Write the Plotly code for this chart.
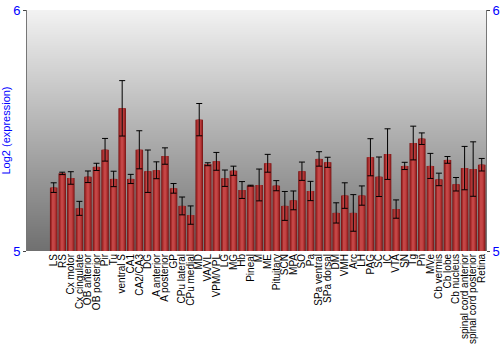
import plotly.graph_objects as go

regions = ["LS", "RS", "Cx motor", "Cx cingulate", "OB anterior", "OB posterior", "Pir", "Tu",
           "ventral S", "CA1", "CA2/CA3", "DG", "A anterior", "A posterior", "GP", "CPu lateral",
           "CPu medial", "MD", "VA/VL", "VPM/VPL", "LG", "MG", "Hb", "Pineal", "M", "ME",
           "Pituitary", "SCN", "MPA", "SO", "Pa", "SPa ventral", "SPa dorsal", "DM", "VMH", "Arc",
           "LH", "PAG", "SC", "IC", "VTA", "SN", "Tg", "Pn", "MVe", "Cb vermis", "Cb lobe",
           "Cb nucleus", "spinal cord anterior", "spinal cord posterior", "Retina"]

expression = [5.263, 5.322, 5.303, 5.177, 5.308, 5.349, 5.420, 5.299,
              5.592, 5.299, 5.420, 5.331, 5.335, 5.394, 5.260, 5.187,
              5.149, 5.545, 5.360, 5.372, 5.302, 5.333, 5.253, 5.271, 5.274, 5.364,
              5.271, 5.187, 5.210, 5.331, 5.249, 5.382, 5.368, 5.158, 5.230, 5.158,
              5.230, 5.389, 5.308, 5.402, 5.174, 5.353, 5.448, 5.466, 5.353, 5.297, 5.378,
              5.277, 5.344, 5.340, 5.358]

error = [0.020, 0.005, 0.026, 0.029, 0.024, 0.015, 0.047, 0.032,
         0.115, 0.019, 0.079, 0.088, 0.035, 0.034, 0.020, 0.037,
         0.038, 0.067, 0.006, 0.037, 0.034, 0.019, 0.035, 0.002, 0.066, 0.037,
         0.021, 0.060, 0.039, 0.038, 0.040, 0.030, 0.021, 0.042, 0.053, 0.076,
         0.040, 0.077, 0.082, 0.105, 0.038, 0.015, 0.070, 0.024, 0.052, 0.026, 0.014,
         0.028, 0.090, 0.113, 0.026]

y_range = [5, 6]
y_ticks = [5, 6]

fig = go.Figure()

# layered bars to imitate the shaded (cylindrical) look
layers = [(0.88, "#7a1616"), (0.70, "#9e2828"), (0.46, "#b83838"), (0.22, "#c44646")]
for i, (w, c) in enumerate(layers):
    last = i == len(layers) - 1
    fig.add_trace(go.Bar(
        x=regions, y=[v - y_range[0] for v in expression], base=y_range[0],
        width=w, marker=dict(color=c, line=dict(width=0)),
        error_y=dict(type="data", array=error, color="black", thickness=1, width=3, visible=last),
        showlegend=False, hoverinfo="skip" if not last else None,
    ))

# gradient background
n = 241
shapes = []
for k in range(n):
    t = k / (n - 1)
    g = int(round(242 - (242 - 112) * t))
    shapes.append(dict(type="rect", xref="paper", yref="paper", x0=0, x1=1,
                       y0=1 - (k + 1) / n, y1=1 - k / n,
                       fillcolor=f"rgb({g},{g},{g})", line=dict(width=0), layer="below"))

fig.update_layout(
    width=500, height=350,
    margin=dict(l=27, r=14, t=10, b=99),
    barmode="overlay", bargap=0.1,
    paper_bgcolor="white", plot_bgcolor="rgba(0,0,0,0)",
    shapes=shapes,
    font=dict(family="Liberation Sans, Arial, sans-serif", size=10, color="black"),
    xaxis=dict(tickmode="array", tickvals=regions, ticktext=regions,
               tickangle=-90, tickfont=dict(size=10, color="black"), showgrid=False,
               showline=False, ticks="", ticklen=0, automargin=False),
    yaxis=dict(range=y_range, tickvals=y_ticks, showgrid=False, zeroline=False,
               showline=True, linecolor="#777777", linewidth=1, ticks="outside", ticklen=3,
               tickcolor="#444444", tickfont=dict(size=13, color="blue"),
               title=dict(text="Log2 (expression)", font=dict(size=11, color="blue"), standoff=4),
               automargin=False),
    yaxis2=dict(range=y_range, tickvals=y_ticks, overlaying="y", side="right", anchor="x",
                showgrid=False, zeroline=False, showline=True, linecolor="#777777", linewidth=1,
                ticks="outside", ticklen=3, tickcolor="#444444",
                tickfont=dict(size=13, color="blue"), automargin=False),
)
fig.add_trace(go.Scatter(x=[regions[0]], y=[y_range[0]], yaxis="y2", mode="markers",
                         marker=dict(opacity=0), showlegend=False, hoverinfo="skip"))

fig.write_html("out.html")
